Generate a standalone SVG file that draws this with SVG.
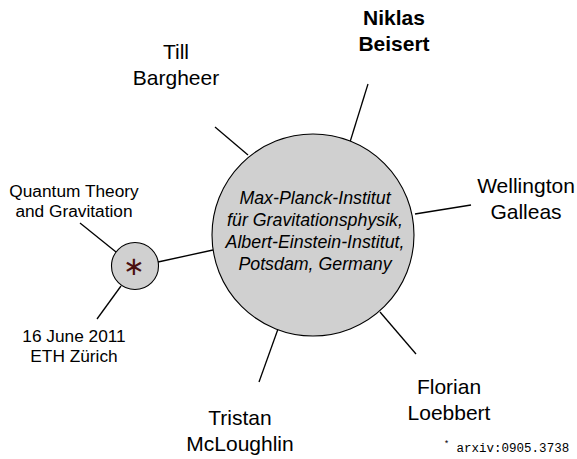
<svg xmlns="http://www.w3.org/2000/svg" width="577" height="459" viewBox="0 0 577 459">
<style>
.big{font-family:"Liberation Sans",Arial,sans-serif;font-size:21px;fill:#000;text-anchor:middle}
.b{font-weight:bold}
.sm{font-family:"Liberation Sans",Arial,sans-serif;font-size:17.3px;fill:#000;text-anchor:middle}
.it{font-family:"Liberation Sans",Arial,sans-serif;font-size:17.8px;font-style:italic;fill:#000;text-anchor:middle}
.mono{font-family:"Liberation Mono","Courier New",monospace;font-size:12.5px;fill:#000}
.ln{stroke:#000;stroke-width:1.3;fill:none}
.node{fill:#d0d0d0;stroke:#000;stroke-width:1.1}
</style>
<g id="connectors">
<line class="ln" x1="215" y1="127" x2="248" y2="155"/>
<line class="ln" x1="350" y1="142" x2="368" y2="84"/>
<line class="ln" x1="415" y1="214" x2="471" y2="205"/>
<line class="ln" x1="380" y1="312" x2="416" y2="354"/>
<line class="ln" x1="278" y1="329" x2="259" y2="382"/>
<line class="ln" x1="158" y1="262" x2="213" y2="250"/>
<line class="ln" x1="80" y1="223" x2="116" y2="252"/>
<line class="ln" x1="121" y1="286" x2="97" y2="319"/>
</g>
<g id="institute">
<circle class="node" cx="313" cy="235" r="101"/>
<text class="it" x="315" y="204">Max-Planck-Institut</text>
<text class="it" x="315" y="226">für Gravitationsphysik,</text>
<text class="it" x="315" y="248">Albert-Einstein-Institut,</text>
<text class="it" x="315" y="270">Potsdam, Germany</text>
</g>
<g id="star">
<circle class="node" cx="135" cy="266" r="23.5"/>
<text x="134" y="275" style="font-family:'DejaVu Sans',sans-serif;font-size:26px;fill:#4a1010;text-anchor:middle">∗</text>
</g>
<g id="bargheer">
<text class="big" x="176" y="59">Till</text>
<text class="big" x="176" y="85">Bargheer</text>
</g>
<g id="beisert">
<text class="big b" x="394" y="25">Niklas</text>
<text class="big b" x="394" y="51">Beisert</text>
</g>
<g id="galleas">
<text class="big" x="526" y="193">Wellington</text>
<text class="big" x="526" y="219">Galleas</text>
</g>
<g id="loebbert">
<text class="big" x="449" y="394">Florian</text>
<text class="big" x="449" y="420">Loebbert</text>
</g>
<g id="mcloughlin">
<text class="big" x="240" y="425">Tristan</text>
<text class="big" x="240" y="451">McLoughlin</text>
</g>
<g id="conference">
<text class="sm" x="74" y="197">Quantum Theory</text>
<text class="sm" x="74" y="217">and Gravitation</text>
</g>
<g id="date">
<text class="sm" x="74" y="342">16 June 2011</text>
<text class="sm" x="74" y="362">ETH Zürich</text>
</g>
<g id="footnote">
<text class="mono" x="444" y="452"><tspan font-size="8.5" dy="-5">*</tspan><tspan dy="5"> arxiv:0905.3738</tspan></text>
</g>
</svg>
